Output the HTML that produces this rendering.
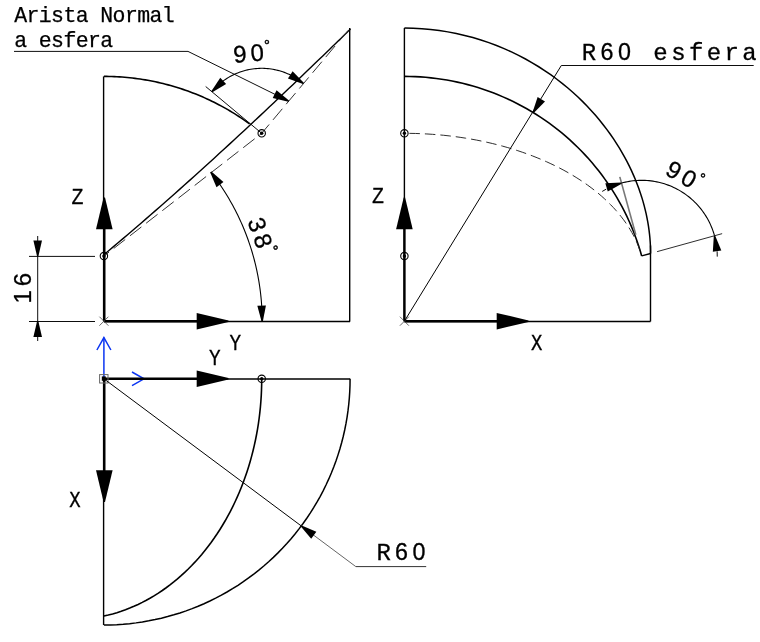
<!DOCTYPE html>
<html lang="es">
<head>
<meta charset="utf-8">
<title>Arista normal a esfera</title>
<style>
html,body{margin:0;padding:0;background:#fff;}
body{width:760px;height:642px;overflow:hidden;}
svg{display:block;will-change:transform;}
text{fill:#000;}
.sa{font-family:"Liberation Sans",sans-serif;}
.mo{font-family:"Liberation Mono",monospace;}
</style>
</head>
<body>
<svg width="760" height="642" viewBox="0 0 760 642">
<rect x="0" y="0" width="760" height="642" fill="#fff"/>
<!-- Front view YZ -->
<line x1="103.60" y1="76.40" x2="103.60" y2="321.20" stroke="#000" stroke-width="1.4" />
<line x1="103.90" y1="321.50" x2="350.08" y2="321.50" stroke="#000" stroke-width="1.4" />
<line x1="349.70" y1="321.50" x2="349.70" y2="28.11" stroke="#000" stroke-width="1.4" />
<path d="M103.90 76.40 L106.50 76.41 L109.09 76.45 L111.69 76.52 L114.29 76.62 L116.88 76.74 L119.47 76.89 L122.06 77.07 L124.65 77.27 L127.24 77.50 L129.82 77.76 L132.41 78.05 L134.98 78.36 L137.56 78.70 L140.13 79.07 L142.70 79.46 L145.26 79.88 L147.82 80.33 L150.37 80.80 L152.92 81.30 L155.46 81.83 L158.00 82.38 L160.53 82.96 L163.05 83.57 L165.57 84.21 L168.08 84.87 L170.59 85.55 L173.08 86.27 L175.57 87.00 L178.05 87.77 L180.52 88.56 L182.99 89.38 L185.44 90.22 L187.89 91.09 L190.33 91.98 L192.75 92.90 L195.17 93.85 L197.58 94.82 L199.97 95.81 L202.36 96.83 L204.74 97.88 L207.10 98.95 L209.45 100.04 L211.79 101.16 L214.12 102.31 L216.44 103.48 L218.74 104.67 L221.03 105.88 L223.31 107.13 L225.57 108.39 L227.83 109.68 L230.06 110.99 L232.29 112.33 L234.49 113.68 L236.69 115.07 L238.87 116.47 L241.03 117.90 L243.18 119.35 L245.32 120.82 L247.43 122.32 L249.54 123.83" fill="none" stroke="#000" stroke-width="1.6" />
<path d="M104.40 254.27 L108.94 250.46 L113.50 246.62 L118.08 242.75 L122.68 238.85 L127.30 234.92 L131.94 230.95 L136.61 226.95 L141.29 222.92 L145.99 218.85 L150.72 214.74 L155.47 210.60 L160.25 206.42 L165.04 202.21 L169.86 197.96 L174.70 193.68 L179.56 189.36 L184.45 185.00 L189.36 180.61 L194.28 176.18 L199.23 171.73 L204.20 167.24 L209.18 162.71 L214.18 158.16 L219.18 153.59 L224.20 148.98 L229.23 144.36 L234.26 139.72 L239.30 135.06 L244.33 130.39 L249.35 125.72 L254.36 121.04 L259.35 116.37 L264.31 111.71 L269.24 107.06 L274.13 102.44 L278.98 97.86 L283.77 93.32 L288.49 88.83 L293.13 84.40 L297.69 80.05 L302.15 75.78 L306.49 71.61 L310.72 67.56 L314.80 63.62 L318.74 59.83 L322.51 56.19 L326.10 52.72 L329.49 49.43 L332.68 46.33 L335.65 43.45 L338.38 40.79 L340.87 38.38 L343.09 36.21 L345.05 34.31 L346.72 32.68 L348.10 31.33 L349.18 30.28 L349.96 29.52 L350.42 29.06 L350.58 28.91" fill="none" stroke="#000" stroke-width="1.4" />
<path d="M103.90 256.10 L261.71 133.31 L348.08 30.51" fill="none" stroke="#333" stroke-width="1.0" stroke-dasharray="14.5 6" stroke-dashoffset="8"/>
<line x1="261.71" y1="133.31" x2="205.68" y2="86.52" stroke="#000" stroke-width="0.95" />
<path d="M303.38 83.43 L302.06 82.35 L300.71 81.31 L299.34 80.31 L297.94 79.34 L296.51 78.42 L295.06 77.52 L293.59 76.67 L292.10 75.85 L290.58 75.08 L289.05 74.34 L287.50 73.65 L285.92 72.99 L284.34 72.38 L282.73 71.81 L281.12 71.28 L279.49 70.79 L277.84 70.35 L276.19 69.95 L274.53 69.59 L272.85 69.28 L271.17 69.01 L269.49 68.78 L267.79 68.60 L266.10 68.46 L264.40 68.37 L262.70 68.32 L261.00 68.32 L259.30 68.36 L257.60 68.45 L255.90 68.58 L254.21 68.75 L252.52 68.97 L250.84 69.23 L249.16 69.54 L247.50 69.89 L245.84 70.28 L244.20 70.72 L242.57 71.20 L240.95 71.72 L239.34 72.29 L237.75 72.89 L236.18 73.54 L234.62 74.23 L233.09 74.96 L231.57 75.73 L230.07 76.54 L228.59 77.38 L227.14 78.27 L225.71 79.19 L224.31 80.15 L222.93 81.15 L221.58 82.19 L220.25 83.25 L218.96 84.36 L217.69 85.49 L216.45 86.66 L215.25 87.86 L214.07 89.09 L212.93 90.36 L211.82 91.65" fill="none" stroke="#000" stroke-width="1.1" />
<polygon points="303.00,84.01 287.94,78.57 292.61,71.35 303.76,82.84" fill="#000"/>
<polygon points="211.35,91.14 220.27,77.84 226.15,84.12 212.30,92.16" fill="#000"/>
<circle cx="261.71" cy="133.31" r="3.7" fill="none" stroke="#000" stroke-width="1.1"/>
<circle cx="261.71" cy="133.31" r="1.7" fill="#000" stroke="#000" stroke-width="0"/>
<circle cx="103.90" cy="256.10" r="3.7" fill="none" stroke="#000" stroke-width="1.1"/>
<circle cx="103.90" cy="256.10" r="1.7" fill="#000" stroke="#000" stroke-width="0"/>
<line x1="104.30" y1="321.20" x2="104.30" y2="226.20" stroke="#000" stroke-width="2.4" />
<polygon points="105.00,197.50 112.60,229.30 96.00,229.30 103.60,197.50" fill="#000"/>
<line x1="103.90" y1="321.20" x2="198.90" y2="321.20" stroke="#000" stroke-width="2.4" />
<polygon points="228.50,321.90 196.70,329.50 196.70,312.90 228.50,320.50" fill="#000"/>
<line x1="99.40" y1="316.70" x2="108.40" y2="325.70" stroke="#444" stroke-width="0.8" />
<line x1="99.40" y1="325.70" x2="108.40" y2="316.70" stroke="#444" stroke-width="0.8" />
<line x1="29.00" y1="256.40" x2="95.00" y2="256.40" stroke="#000" stroke-width="0.95" />
<line x1="29.00" y1="321.50" x2="95.00" y2="321.50" stroke="#000" stroke-width="0.95" />
<line x1="37.70" y1="236.00" x2="37.70" y2="341.00" stroke="#000" stroke-width="0.95" />
<polygon points="37.00,256.10 33.40,240.50 42.00,240.50 38.40,256.10" fill="#000"/>
<polygon points="38.40,321.50 42.00,337.10 33.40,337.10 37.00,321.50" fill="#000"/>
<text class="sa" x="31.20" y="303.50" font-size="24" letter-spacing="4" stroke="#000" stroke-width="0.3" transform="rotate(-90 31.20 303.50)">16</text>
<path d="M262.17 321.20 L262.16 318.52 L262.12 315.84 L262.04 313.17 L261.94 310.49 L261.80 307.82 L261.64 305.14 L261.45 302.47 L261.23 299.80 L260.98 297.13 L260.70 294.47 L260.39 291.81 L260.05 289.15 L259.68 286.50 L259.28 283.85 L258.85 281.21 L258.39 278.57 L257.91 275.94 L257.39 273.31 L256.85 270.69 L256.28 268.07 L255.68 265.46 L255.05 262.86 L254.39 260.26 L253.70 257.67 L252.98 255.09 L252.24 252.52 L251.46 249.95 L250.66 247.40 L249.83 244.85 L248.97 242.31 L248.09 239.79 L247.17 237.27 L246.23 234.76 L245.26 232.27 L244.27 229.78 L243.24 227.30 L242.19 224.84 L241.11 222.39 L240.01 219.95 L238.87 217.52 L237.71 215.11 L236.53 212.71 L235.32 210.32 L234.08 207.95 L232.81 205.58 L231.52 203.24 L230.20 200.91 L228.86 198.59 L227.49 196.29 L226.10 194.00 L224.68 191.73 L223.24 189.47 L221.77 187.23 L220.28 185.01 L218.76 182.80 L217.22 180.61 L215.65 178.44 L214.06 176.28 L212.45 174.14 L210.81 172.03" fill="none" stroke="#000" stroke-width="1.1" />
<polygon points="261.47,321.22 257.33,305.76 265.93,305.46 262.87,321.18" fill="#000"/>
<polygon points="211.38,171.61 223.46,182.12 216.50,187.17 210.24,172.44" fill="#000"/>
<text class="sa" x="247.30" y="220.90" font-size="24" letter-spacing="4" stroke="#000" stroke-width="0.3" transform="rotate(71 247.30 220.90)">38<tspan font-size="14.5" dy="-10" dx="-3" stroke-width="0.5">&#176;</tspan></text>
<text class="sa" x="234.00" y="63.00" font-size="24" letter-spacing="4" stroke="#000" stroke-width="0.3" transform="rotate(-5 234.00 63.00)">90<tspan font-size="14.5" dy="-10" dx="-3" stroke-width="0.5">&#176;</tspan></text>
<text class="mo" font-size="21.5" text-anchor="middle" stroke="#000" stroke-width="0.3" transform="translate(77.40 203.60) scale(0.93 1)">Z</text>
<text class="mo" font-size="21.5" text-anchor="middle" stroke="#000" stroke-width="0.3" transform="translate(235.40 349.90) scale(0.9 1)">Y</text>
<text class="mo" x="14.20" y="22.00" font-size="21.5" letter-spacing="-0.6" text-anchor="start" stroke="#000" stroke-width="0.25" >Arista Normal</text>
<text class="mo" x="14.20" y="46.70" font-size="21.5" letter-spacing="-0.6" text-anchor="start" stroke="#000" stroke-width="0.25" >a esfera</text>
<line x1="14.00" y1="51.40" x2="188.00" y2="51.40" stroke="#000" stroke-width="0.95" />
<line x1="188.00" y1="51.40" x2="288.64" y2="101.08" stroke="#000" stroke-width="0.95" />
<polygon points="288.33,101.71 272.74,98.03 276.55,90.32 288.95,100.45" fill="#000"/>
<!-- Side view XZ -->
<line x1="404.40" y1="28.11" x2="404.40" y2="321.20" stroke="#000" stroke-width="1.4" />
<line x1="404.40" y1="321.50" x2="650.50" y2="321.50" stroke="#000" stroke-width="1.4" />
<line x1="650.50" y1="321.50" x2="650.50" y2="245.47" stroke="#000" stroke-width="1.4" />
<path d="M650.58 253.47 L650.54 249.66 L650.41 245.82 L650.20 241.95 L649.90 238.05 L649.51 234.12 L649.03 230.15 L648.46 226.15 L647.80 222.12 L647.04 218.05 L646.18 213.94 L645.22 209.80 L644.16 205.62 L642.99 201.41 L641.72 197.16 L640.33 192.88 L638.82 188.56 L637.20 184.20 L635.46 179.81 L633.58 175.38 L631.58 170.93 L629.44 166.44 L627.17 161.91 L624.75 157.36 L622.18 152.79 L619.46 148.18 L616.58 143.56 L613.54 138.92 L610.33 134.26 L606.95 129.59 L603.38 124.92 L599.64 120.24 L595.70 115.57 L591.57 110.91 L587.24 106.26 L582.71 101.64 L577.97 97.06 L573.02 92.52 L567.85 88.03 L562.47 83.60 L556.86 79.25 L551.03 74.98 L544.98 70.81 L538.71 66.76 L532.21 62.82 L525.50 59.03 L518.57 55.39 L511.43 51.92 L504.09 48.63 L496.55 45.53 L488.83 42.65 L480.92 39.99 L472.86 37.58 L464.65 35.41 L456.30 33.51 L447.84 31.88 L439.27 30.53 L430.63 29.48 L421.92 28.72 L413.17 28.26 L404.40 28.11" fill="none" stroke="#000" stroke-width="1.5" />
<path d="M404.40 76.40 L409.74 76.46 L415.07 76.63 L420.40 76.92 L425.72 77.32 L431.03 77.84 L436.33 78.47 L441.62 79.21 L446.89 80.07 L452.13 81.05 L457.36 82.13 L462.56 83.33 L467.73 84.64 L472.87 86.06 L477.98 87.59 L483.06 89.23 L488.10 90.98 L493.10 92.84 L498.05 94.81 L502.97 96.88 L507.83 99.06 L512.65 101.34 L517.42 103.72 L522.14 106.21 L526.80 108.80 L531.40 111.49 L535.94 114.28 L540.42 117.16 L544.84 120.14 L549.19 123.21 L553.47 126.38 L557.68 129.64 L561.82 132.99 L565.89 136.43 L569.88 139.95 L573.79 143.56 L577.62 147.26 L581.38 151.03 L585.04 154.89 L588.63 158.82 L592.12 162.83 L595.53 166.92 L598.85 171.07 L602.08 175.30 L605.21 179.59 L608.25 183.96 L611.20 188.38 L614.04 192.87 L616.79 197.42 L619.44 202.03 L621.99 206.69 L624.43 211.41 L626.78 216.18 L629.01 221.00 L631.14 225.87 L633.17 230.78 L635.09 235.73 L636.90 240.72 L638.60 245.75 L640.19 250.82 L641.67 255.92" fill="none" stroke="#000" stroke-width="1.6" />
<line x1="641.67" y1="255.92" x2="650.58" y2="253.47" stroke="#000" stroke-width="1.4" />
<path d="M404.40 133.31 L410.02 133.36 L415.64 133.48 L421.26 133.68 L426.86 133.96 L432.46 134.32 L438.04 134.76 L443.59 135.28 L449.13 135.88 L454.65 136.56 L460.13 137.32 L465.59 138.16 L471.01 139.07 L476.40 140.06 L481.74 141.13 L487.05 142.27 L492.31 143.49 L497.52 144.79 L502.68 146.16 L507.78 147.60 L512.83 149.12 L517.83 150.70 L522.75 152.36 L527.62 154.09 L532.42 155.89 L537.14 157.75 L541.80 159.68 L546.38 161.68 L550.88 163.75 L555.30 165.87 L559.64 168.06 L563.90 170.31 L568.07 172.63 L572.14 175.00 L576.13 177.43 L580.03 179.91 L583.82 182.45 L587.52 185.04 L591.12 187.69 L594.62 190.39 L598.01 193.13 L601.30 195.92 L604.48 198.76 L607.55 201.65 L610.51 204.58 L613.36 207.55 L616.09 210.55 L618.71 213.60 L621.21 216.69 L623.60 219.81 L625.86 222.96 L628.00 226.14 L630.02 229.35 L631.92 232.60 L633.69 235.86 L635.34 239.16 L636.86 242.47 L638.25 245.81 L639.52 249.16 L640.66 252.53 L641.67 255.92" fill="none" stroke="#222" stroke-width="0.95" stroke-dasharray="10.5 5" stroke-dashoffset="-5"/>
<circle cx="404.40" cy="133.31" r="3.7" fill="none" stroke="#000" stroke-width="1.1"/>
<circle cx="404.40" cy="133.31" r="1.7" fill="#000" stroke="#000" stroke-width="0"/>
<circle cx="404.40" cy="256.10" r="3.7" fill="none" stroke="#000" stroke-width="1.1"/>
<circle cx="404.40" cy="256.10" r="1.7" fill="#000" stroke="#000" stroke-width="0"/>
<line x1="404.40" y1="321.20" x2="404.40" y2="226.20" stroke="#000" stroke-width="2.4" />
<polygon points="405.10,197.50 412.70,229.30 396.10,229.30 403.70,197.50" fill="#000"/>
<line x1="404.40" y1="321.20" x2="499.40" y2="321.20" stroke="#000" stroke-width="2.4" />
<polygon points="528.50,321.90 496.70,329.50 496.70,312.90 528.50,320.50" fill="#000"/>
<line x1="399.90" y1="316.70" x2="408.90" y2="325.70" stroke="#444" stroke-width="0.8" />
<line x1="399.90" y1="325.70" x2="408.90" y2="316.70" stroke="#444" stroke-width="0.8" />
<text class="mo" font-size="21.5" text-anchor="middle" stroke="#000" stroke-width="0.3" transform="translate(378.00 203.20) scale(0.93 1)">Z</text>
<text class="mo" font-size="21.5" text-anchor="middle" stroke="#000" stroke-width="0.3" transform="translate(536.80 350.40) scale(0.88 1)">X</text>
<line x1="404.40" y1="321.20" x2="561.30" y2="65.50" stroke="#000" stroke-width="1.0" />
<line x1="561.30" y1="65.50" x2="753.70" y2="65.50" stroke="#000" stroke-width="0.95" />
<polygon points="532.56,112.18 537.65,97.00 544.98,101.50 533.75,112.92" fill="#000"/>
<text class="mo" x="581.8" y="59.9" font-size="24" letter-spacing="3.4" stroke="#000" stroke-width="0.3">R<tspan class="sa" font-size="23.3" letter-spacing="4.6" dx="0.8">60</tspan> esfera</text>
<line x1="635.80" y1="234.72" x2="619.80" y2="176.89" stroke="#777" stroke-width="1.6" />
<line x1="657.09" y1="251.65" x2="722.14" y2="233.65" stroke="#222" stroke-width="0.95" />
<path d="M714.53 235.76 L713.98 233.86 L713.37 231.97 L712.72 230.11 L712.02 228.25 L711.27 226.42 L710.48 224.61 L709.63 222.82 L708.74 221.05 L707.81 219.31 L706.83 217.59 L705.80 215.90 L704.73 214.23 L703.62 212.59 L702.46 210.99 L701.27 209.41 L700.03 207.87 L698.75 206.36 L697.43 204.88 L696.08 203.44 L694.69 202.03 L693.26 200.66 L691.79 199.33 L690.29 198.04 L688.76 196.78 L687.20 195.57 L685.60 194.40 L683.98 193.27 L682.32 192.18 L680.64 191.14 L678.93 190.14 L677.20 189.19 L675.44 188.28 L673.66 187.42 L671.85 186.61 L670.03 185.84 L668.18 185.12 L666.32 184.45 L664.44 183.83 L662.55 183.26 L660.64 182.74 L658.72 182.27 L656.78 181.85 L654.84 181.48 L652.88 181.16 L650.92 180.89 L648.96 180.67 L646.98 180.51 L645.01 180.39 L643.03 180.33 L641.05 180.32 L639.07 180.36 L637.10 180.46 L635.12 180.60 L633.15 180.80 L631.19 181.05 L629.23 181.35 L627.28 181.70 L625.35 182.10 L623.42 182.55 L621.51 183.06" fill="none" stroke="#000" stroke-width="1.1" />
<polygon points="621.70,183.73 607.76,191.60 605.33,183.36 621.31,182.39" fill="#000"/>
<polygon points="715.22,235.64 721.34,250.44 712.85,251.85 713.84,235.88" fill="#000"/>
<line x1="606.21" y1="189.15" x2="602.20" y2="191.44" stroke="#000" stroke-width="0.95" />
<line x1="717.13" y1="251.35" x2="717.26" y2="256.62" stroke="#000" stroke-width="0.95" />
<text class="sa" x="664.00" y="174.00" font-size="24" letter-spacing="4" stroke="#000" stroke-width="0.3" transform="rotate(29.5 664.00 174.00)">90<tspan font-size="14.5" dy="-10" dx="-3" stroke-width="0.5">&#176;</tspan></text>
<!-- Top view XY -->
<line x1="103.90" y1="379.00" x2="350.08" y2="379.00" stroke="#000" stroke-width="1.4" />
<line x1="103.60" y1="378.80" x2="103.60" y2="624.98" stroke="#000" stroke-width="1.4" />
<path d="M350.08 378.80 L350.00 385.24 L349.74 391.68 L349.32 398.12 L348.73 404.53 L347.97 410.93 L347.05 417.31 L345.96 423.66 L344.70 429.98 L343.28 436.27 L341.69 442.52 L339.94 448.72 L338.03 454.87 L335.96 460.98 L333.73 467.02 L331.34 473.01 L328.80 478.93 L326.10 484.78 L323.25 490.56 L320.25 496.27 L317.10 501.89 L313.80 507.43 L310.36 512.88 L306.78 518.24 L303.06 523.50 L299.21 528.66 L295.22 533.73 L291.10 538.68 L286.85 543.53 L282.47 548.26 L277.98 552.88 L273.36 557.37 L268.63 561.75 L263.78 566.00 L258.83 570.12 L253.76 574.11 L248.60 577.96 L243.34 581.68 L237.98 585.26 L232.53 588.70 L226.99 592.00 L221.37 595.15 L215.66 598.15 L209.88 601.00 L204.03 603.70 L198.11 606.24 L192.12 608.63 L186.08 610.86 L179.97 612.93 L173.82 614.84 L167.62 616.59 L161.37 618.18 L155.08 619.60 L148.76 620.86 L142.41 621.95 L136.03 622.87 L129.63 623.63 L123.22 624.22 L116.78 624.64 L110.34 624.90 L103.90 624.98" fill="none" stroke="#000" stroke-width="1.5" />
<path d="M103.90 616.07 L108.26 615.06 L112.60 613.92 L116.92 612.65 L121.21 611.26 L125.48 609.74 L129.72 608.09 L133.92 606.32 L138.09 604.42 L142.23 602.40 L146.33 600.26 L150.39 598.00 L154.40 595.61 L158.37 593.11 L162.29 590.49 L166.17 587.76 L169.99 584.91 L173.76 581.95 L177.47 578.88 L181.12 575.70 L184.72 572.41 L188.25 569.02 L191.72 565.52 L195.13 561.92 L198.47 558.22 L201.74 554.43 L204.93 550.53 L208.06 546.54 L211.11 542.47 L214.09 538.30 L216.99 534.04 L219.80 529.70 L222.54 525.28 L225.20 520.78 L227.77 516.20 L230.26 511.54 L232.66 506.82 L234.97 502.02 L237.20 497.15 L239.33 492.23 L241.37 487.23 L243.32 482.18 L245.18 477.08 L246.94 471.92 L248.61 466.71 L250.18 461.45 L251.65 456.14 L253.03 450.80 L254.30 445.41 L255.48 439.99 L256.56 434.53 L257.53 429.05 L258.41 423.53 L259.18 417.99 L259.85 412.44 L260.42 406.86 L260.88 401.26 L261.25 395.66 L261.50 390.04 L261.66 384.42 L261.71 378.80" fill="none" stroke="#000" stroke-width="1.6" />
<circle cx="261.71" cy="378.80" r="3.7" fill="none" stroke="#000" stroke-width="1.1"/>
<circle cx="261.71" cy="378.80" r="1.7" fill="#000" stroke="#000" stroke-width="0"/>
<line x1="103.90" y1="378.80" x2="103.90" y2="337.60" stroke="#0b35f2" stroke-width="1.5" />
<path d="M96.9 350 L103.9 337.6 L110.9 350" fill="none" stroke="#0b35f2" stroke-width="1.5"/>
<line x1="103.90" y1="378.80" x2="144.00" y2="378.80" stroke="#0b35f2" stroke-width="1.5" />
<path d="M132 372 L144 378.8 L132 385.6" fill="none" stroke="#0b35f2" stroke-width="1.5"/>
<line x1="103.90" y1="378.80" x2="198.90" y2="378.80" stroke="#000" stroke-width="2.4" />
<polygon points="228.50,379.50 196.70,387.10 196.70,370.50 228.50,378.10" fill="#000"/>
<line x1="104.30" y1="378.80" x2="104.30" y2="473.80" stroke="#000" stroke-width="2.4" />
<polygon points="103.60,502.00 96.00,470.20 112.60,470.20 105.00,502.00" fill="#000"/>
<rect x="101.8" y="376.4" width="4" height="4.4" fill="#000"/>
<rect x="99.6" y="374.6" width="8.4" height="8.4" fill="none" stroke="#666" stroke-width="1"/>
<text class="mo" font-size="21.5" text-anchor="middle" stroke="#000" stroke-width="0.3" transform="translate(214.80 364.80) scale(0.9 1)">Y</text>
<text class="mo" font-size="21.5" text-anchor="middle" stroke="#000" stroke-width="0.3" transform="translate(74.90 507.00) scale(0.88 1)">X</text>
<line x1="103.90" y1="378.80" x2="301.27" y2="525.94" stroke="#000" stroke-width="1.0" />
<line x1="301.27" y1="525.94" x2="355.80" y2="566.60" stroke="#666" stroke-width="1.0" />
<line x1="355.80" y1="566.60" x2="426.20" y2="566.60" stroke="#333" stroke-width="1.0" />
<polygon points="301.68,525.38 316.34,531.82 311.20,538.71 300.85,526.50" fill="#000"/>
<text class="mo" x="376.4" y="560.2" font-size="24" letter-spacing="3.4" stroke="#000" stroke-width="0.3">R<tspan class="sa" font-size="23.3" letter-spacing="4.6" dx="0.8">60</tspan></text>
</svg>
</body>
</html>
